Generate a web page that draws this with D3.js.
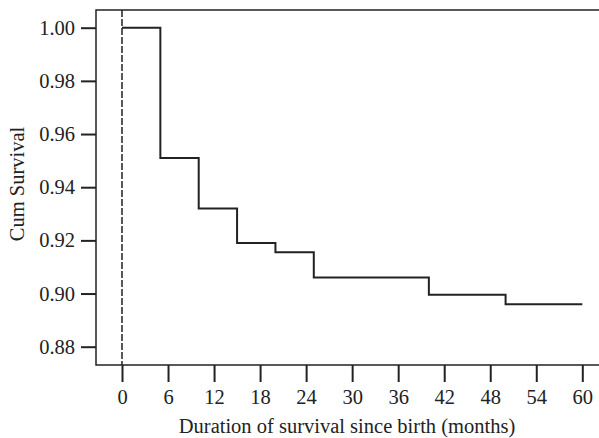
<!DOCTYPE html>
<html>
<head>
<meta charset="utf-8">
<script src="https://cdn.jsdelivr.net/npm/d3@7"></script>
<style>
  body { margin: 0; background: #fff; }
  text { font-family: "Liberation Serif", "Times New Roman", serif; fill: #222; }
</style>
</head>
<body>
<script>
// survival curve
var months   = [0, 5, 10, 15, 20, 25, 30, 40, 50, 60];
var survival = [1.000, 0.951, 0.932, 0.919, 0.9155, 0.906, 0.906, 0.8995, 0.896, 0.896];
var xTicks = [0, 6, 12, 18, 24, 30, 36, 42, 48, 54, 60];
var yTicks = [0.88, 0.90, 0.92, 0.94, 0.96, 0.98, 1.00];

var W = 599, H = 438;
var frameL = 96, frameT = 10, frameR = 601, frameB = 365;
var fs = 20.5;

var svg = d3.select('body').append('svg')
    .attr('width', W)
    .attr('height', H);

var x = d3.scaleLinear().domain([0, 60]).range([122, 582.3]);
var y = d3.scaleLinear().domain([0.88, 1.00]).range([346.7, 27.7]);

// frame
svg.append('rect')
    .attr('x', frameL).attr('y', frameT)
    .attr('width', frameR - frameL).attr('height', frameB - frameT)
    .attr('fill', 'none')
    .attr('stroke', '#222')
    .attr('stroke-width', 1.5);

// y axis ticks
var yAxis = d3.axisLeft(y).tickValues(yTicks)
    .tickFormat(d3.format('.2f'))
    .tickSize(15).tickPadding(6);
var gy = svg.append('g').attr('transform', 'translate(' + frameL + ',0)').call(yAxis);
gy.select('.domain').remove();
gy.selectAll('line').attr('stroke', '#222').attr('stroke-width', 2);
gy.selectAll('text').attr('font-size', fs).attr('fill', '#222');

// x axis ticks
var xAxis = d3.axisBottom(x).tickValues(xTicks)
    .tickSize(17).tickPadding(7);
var gx = svg.append('g').attr('transform', 'translate(0,' + frameB + ')').call(xAxis);
gx.select('.domain').remove();
gx.selectAll('line').attr('stroke', '#222').attr('stroke-width', 2);
gx.selectAll('text').attr('font-size', fs).attr('fill', '#222');

// dashed reference at time 0
svg.append('line')
    .attr('x1', x(0)).attr('x2', x(0))
    .attr('y1', frameT).attr('y2', frameB)
    .attr('stroke', '#222')
    .attr('stroke-width', 1.5)
    .attr('stroke-dasharray', '7,2');

// step curve
var pts = months.map(function(m, i){ return [m, survival[i]]; });
var line = d3.line()
    .x(function(d){ return x(d[0]); })
    .y(function(d){ return y(d[1]); })
    .curve(d3.curveStepAfter);

svg.append('path')
    .datum(pts)
    .attr('d', line)
    .attr('fill', 'none')
    .attr('stroke', '#222')
    .attr('stroke-width', 2);

// axis titles
svg.append('text')
    .attr('x', 347).attr('y', 433)
    .attr('text-anchor', 'middle')
    .attr('font-size', fs)
    .text('Duration of survival since birth (months)');

svg.append('text')
    .attr('transform', 'translate(24,184) rotate(-90)')
    .attr('text-anchor', 'middle')
    .attr('font-size', fs)
    .text('Cum Survival');
</script>
</body>
</html>
